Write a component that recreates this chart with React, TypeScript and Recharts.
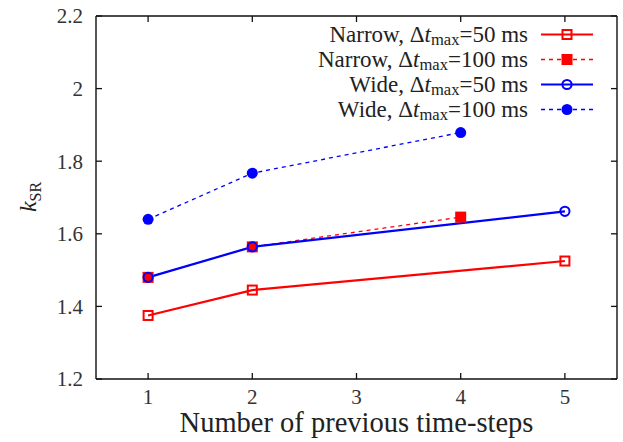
import { LineChart, Line, XAxis, YAxis, Legend, Label } from 'recharts';

// previous time-steps used by each run
const stepsShort = [1, 2, 5];
const stepsLong = [1, 2, 4];

// k_SR per configuration
const narrow50 = [1.375, 1.445, 1.525];
const narrow100 = [1.48, 1.564, 1.646];
const wide50 = [1.48, 1.564, 1.662];
const wide100 = [1.64, 1.767, 1.879];

const xTicks = [1, 2, 3, 4, 5];
const yTicks = [1.2, 1.4, 1.6, 1.8, 2, 2.2];
const xDomain: [number, number] = [0.5, 5.5];
const yDomain: [number, number] = [1.2, 2.2];

const FONT = '"Liberation Serif", serif';
const RED = '#ff0000';
const BLUE = '#0000ff';
const INK = '#111';
const TICK_LEN = 6;

const toRows = (xs: number[], ys: number[]) => xs.map((x, i) => ({ x, k: ys[i] }));

type MarkerKind = 'openSquare' | 'filledSquare' | 'openCircle' | 'filledCircle';

const series = [
  { id: 'n50', kind: 'Narrow', dt: '50', color: RED, dashed: false, marker: 'openSquare' as MarkerKind, rows: toRows(stepsShort, narrow50) },
  { id: 'n100', kind: 'Narrow', dt: '100', color: RED, dashed: true, marker: 'filledSquare' as MarkerKind, rows: toRows(stepsLong, narrow100) },
  { id: 'w50', kind: 'Wide', dt: '50', color: BLUE, dashed: false, marker: 'openCircle' as MarkerKind, rows: toRows(stepsShort, wide50) },
  { id: 'w100', kind: 'Wide', dt: '100', color: BLUE, dashed: true, marker: 'filledCircle' as MarkerKind, rows: toRows(stepsLong, wide100) },
];

function Marker({ kind, cx, cy, color }: { kind: MarkerKind; cx: number; cy: number; color: string }) {
  switch (kind) {
    case 'openSquare':
      return <rect x={cx - 4.5} y={cy - 4.5} width={9} height={9} fill="none" stroke={color} strokeWidth={2} />;
    case 'filledSquare':
      return <rect x={cx - 5.5} y={cy - 5.5} width={11} height={11} fill={color} />;
    case 'openCircle':
      return <circle cx={cx} cy={cy} r={4.6} fill="none" stroke={color} strokeWidth={2} />;
    default:
      return <circle cx={cx} cy={cy} r={5.5} fill={color} />;
  }
}

const makeDot = (kind: MarkerKind, color: string) => (props: any) => (
  <g key={`${kind}-${props.index}`}>
    <Marker kind={kind} cx={props.cx} cy={props.cy} color={color} />
  </g>
);

const BottomTick = ({ x, y, payload }: any) => (
  <text x={x} y={y + 10} dy="0.71em" textAnchor="middle" fontFamily={FONT} fontSize={21} fill="#333">
    {payload.value}
  </text>
);

const LeftTick = ({ x, y, payload }: any) => (
  <text x={x - 13} y={y} dy="0.355em" textAnchor="end" fontFamily={FONT} fontSize={21} fill="#333">
    {payload.value}
  </text>
);

// axis-relative positions inside an axis viewBox
const xAt = (vb: any, t: number) => vb.x + ((t - xDomain[0]) / (xDomain[1] - xDomain[0])) * vb.width;
const yAt = (vb: any, t: number) => vb.y + ((yDomain[1] - t) / (yDomain[1] - yDomain[0])) * vb.height;

// inward tick marks, one set per side of the frame
const HorizontalTicks = ({ vb, edge, dir }: { vb: any; edge: number; dir: number }) => (
  <g>
    {xTicks.map((t) => (
      <line key={t} x1={xAt(vb, t)} x2={xAt(vb, t)} y1={edge} y2={edge + dir * TICK_LEN} stroke={INK} strokeWidth={1.3} />
    ))}
  </g>
);

const VerticalTicks = ({ vb, edge, dir }: { vb: any; edge: number; dir: number }) => (
  <g>
    {yTicks.map((t) => (
      <line key={t} x1={edge} x2={edge + dir * TICK_LEN} y1={yAt(vb, t)} y2={yAt(vb, t)} stroke={INK} strokeWidth={1.3} />
    ))}
  </g>
);

function SeriesName({ kind, dt }: { kind: string; dt: string }) {
  return (
    <>
      {kind}, Δ<i>t</i>
      <sub style={{ fontSize: '0.72em', verticalAlign: '-0.18em', lineHeight: 0 }}>max</sub>={dt} ms
    </>
  );
}

function LegendBox() {
  return (
    <div style={{ fontFamily: FONT, fontSize: 23, color: '#222' }}>
      {series.map((s) => (
        <div key={s.id} style={{ display: 'flex', alignItems: 'center', height: 25 }}>
          <span style={{ width: 528, textAlign: 'right', whiteSpace: 'nowrap', lineHeight: '25px', height: 25 }}>
            <SeriesName kind={s.kind} dt={s.dt} />
          </span>
          <svg width={56} height={25} style={{ marginLeft: 12, display: 'block', flex: 'none' }}>
            <line
              x1={1}
              x2={53}
              y1={12.5}
              y2={12.5}
              stroke={s.color}
              strokeWidth={s.dashed ? 1.3 : 2.2}
              strokeDasharray={s.dashed ? '4 4' : undefined}
            />
            <Marker kind={s.marker} cx={27} cy={12.5} color={s.color} />
          </svg>
        </div>
      ))}
    </div>
  );
}

const axisLine = { stroke: INK, strokeWidth: 1.4 };

export default function App() {
  return (
    <div style={{ position: 'absolute', left: 0, top: 0, background: '#fff' }}>
      <LineChart width={623} height={442} margin={{ top: 15, right: 5, bottom: 13, left: 36 }}>
        <XAxis
          xAxisId="bottom"
          dataKey="x"
          type="number"
          domain={xDomain}
          ticks={xTicks}
          interval={0}
          height={50}
          axisLine={axisLine}
          tickLine={false}
          tickSize={0}
          tickMargin={0}
          tick={BottomTick}
          allowDuplicatedCategory={false}
        >
          <Label
            content={({ viewBox }: any) => (
              <g>
                <HorizontalTicks vb={viewBox} edge={viewBox.y} dir={-1} />
                <text
                  x={viewBox.x + viewBox.width / 2}
                  y={viewBox.y + 53}
                  textAnchor="middle"
                  fontFamily={FONT}
                  fontSize={28.5}
                  fill="#222"
                >
                  Number of previous time-steps
                </text>
              </g>
            )}
          />
        </XAxis>
        <XAxis
          xAxisId="top"
          orientation="top"
          type="number"
          domain={xDomain}
          allowDataOverflow
          height={1}
          axisLine={axisLine}
          tickLine={false}
          tick={false}
        >
          <Label
            content={({ viewBox }: any) => (
              <HorizontalTicks vb={viewBox} edge={viewBox.y + viewBox.height} dir={1} />
            )}
          />
        </XAxis>
        <YAxis
          yAxisId="left"
          type="number"
          domain={yDomain}
          ticks={yTicks}
          interval={0}
          width={60}
          axisLine={axisLine}
          tickLine={false}
          tickSize={0}
          tickMargin={0}
          tick={LeftTick}
        >
          <Label
            content={({ viewBox }: any) => (
              <g>
                <VerticalTicks vb={viewBox} edge={viewBox.x + viewBox.width} dir={1} />
                <text
                  transform="translate(36 197) rotate(-90)"
                  textAnchor="middle"
                  fontFamily={FONT}
                  fontSize={24}
                  fill="#222"
                >
                  <tspan fontStyle="italic">k</tspan>
                  <tspan fontSize={16} dy={5}>SR</tspan>
                </text>
              </g>
            )}
          />
        </YAxis>
        <YAxis
          yAxisId="right"
          orientation="right"
          type="number"
          domain={yDomain}
          allowDataOverflow
          width={1}
          axisLine={axisLine}
          tickLine={false}
          tick={false}
        >
          <Label
            content={({ viewBox }: any) => <VerticalTicks vb={viewBox} edge={viewBox.x} dir={-1} />}
          />
        </YAxis>
        <Legend
          verticalAlign="middle"
          align="center"
          layout="vertical"
          wrapperStyle={{ position: 'absolute', left: 0, top: 22, width: 623 }}
          content={() => <LegendBox />}
        />
        {series.map((s) => (
          <Line
            key={s.id}
            xAxisId="bottom"
            yAxisId="left"
            data={s.rows}
            dataKey="k"
            name={s.id}
            type="linear"
            stroke={s.color}
            strokeWidth={s.dashed ? 1.3 : 2.2}
            strokeDasharray={s.dashed ? '4 4' : undefined}
            dot={makeDot(s.marker, s.color)}
            activeDot={false}
            isAnimationActive={false}
          />
        ))}
      </LineChart>
    </div>
  );
}
